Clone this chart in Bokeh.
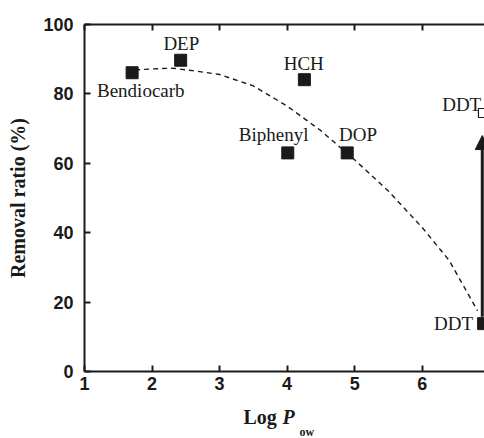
from bokeh.plotting import figure
from bokeh.models import Range1d, LinearAxis, FixedTicker, Arrow, NormalHead, ColumnDataSource
from bokeh.layouts import column
from bokeh.core.properties import value
from bokeh.embed import file_html
from bokeh.resources import INLINE

# ---- data ----
compounds = ["Bendiocarb", "DEP", "HCH", "Biphenyl", "DOP", "DDT"]
log_pow = [1.705, 2.424, 4.256, 4.01, 4.89, 6.91]
removal = [86.1, 89.7, 84.1, 63.0, 63.0, 13.8]

# open marker (DDT, second value)
ddt2_x = [6.90]
ddt2_y = [74.5]

# dashed trend curve
curve_x = [1.75, 2.0, 2.3, 2.6, 3.0, 3.5, 4.0, 4.5, 5.0, 5.5, 6.0, 6.4, 6.82]
curve_y = [86.9, 87.2, 87.4, 86.7, 85.6, 82.3, 76.5, 69.4, 61.0, 52.0, 41.5, 32.0, 17.5]

# arrow
arrow_x = 6.89
arrow_y0 = 15.8
arrow_y1 = 68.0

x_ticks = [1, 2, 3, 4, 5, 6]
y_ticks = [0, 20, 40, 60, 80, 100]

# point labels (text, x, y, align)
lab_text = ["Bendiocarb", "DEP", "HCH", "Biphenyl", "DOP", "DDT", "DDT"]
lab_x = [1.185, 2.434, 4.246, 3.80, 5.05, 6.755, 6.296]
lab_y = [80.9, 94.55, 88.85, 68.25, 68.25, 13.95, 77.05]
lab_align = ["left", "center", "center", "center", "center", "right", "left"]

INK = "#1a1a1a"

p = figure(width=484, height=405, output_backend="svg", toolbar_location=None,
           x_range=Range1d(1, 6.923), y_range=Range1d(0, 100),
           x_axis_location=None, y_axis_location=None,
           min_border_left=84, min_border_right=0, min_border_top=24, min_border_bottom=34)
p.outline_line_color = None
p.xgrid.visible = False
p.ygrid.visible = False
p.background_fill_color = "white"
p.border_fill_color = "white"

def style_axis(ax, labels=True):
    ax.axis_line_width = 2
    ax.axis_line_color = INK
    ax.major_tick_line_width = 2
    ax.major_tick_line_color = INK
    ax.major_tick_in = 6
    ax.major_tick_out = 0
    ax.minor_tick_line_color = None
    ax.major_label_text_font = "Liberation Sans"
    ax.major_label_text_font_style = "bold"
    ax.major_label_text_font_size = "18px"
    ax.major_label_text_color = INK
    if not labels:
        ax.major_label_text_alpha = 0
        ax.major_label_text_font_size = "1px"

bottom = LinearAxis(ticker=FixedTicker(ticks=x_ticks))
style_axis(bottom)
bottom.major_label_standoff = 5
p.add_layout(bottom, "below")

left = LinearAxis(ticker=FixedTicker(ticks=y_ticks))
style_axis(left)
left.major_label_standoff = 11
left.axis_label = "Removal ratio (%)"
left.axis_label_text_font = "Liberation Serif"
left.axis_label_text_font_style = "bold"
left.axis_label_text_font_size = "20px"
left.axis_label_text_color = INK
left.axis_label_standoff = 11
p.add_layout(left, "left")

top = LinearAxis(ticker=FixedTicker(ticks=x_ticks))
style_axis(top, labels=False)
p.add_layout(top, "above")

# dashed curve
p.line(curve_x, curve_y, line_color=INK, line_width=1.4, line_dash="5 4")

# arrow
p.add_layout(Arrow(x_start=arrow_x, y_start=arrow_y0, x_end=arrow_x, y_end=arrow_y1,
                   line_color=INK, line_width=3,
                   end=NormalHead(size=14, fill_color=INK, line_color=INK)))

# points
p.scatter(log_pow, removal, marker="square", size=12, fill_color=INK, line_color=INK)
p.scatter(ddt2_x, ddt2_y, marker="square", size=9, fill_color="white", line_color=INK, line_width=1.2)

# point annotations
src = ColumnDataSource(dict(x=lab_x, y=lab_y, t=lab_text, a=lab_align))
p.text(x="x", y="y", text="t", text_align="a", source=src,
       text_font=value("Liberation Serif"), text_font_size="19px",
       text_color=INK, text_baseline="middle")

# ---- x-axis title strip: Log P_ow (frame of this strip is aligned to page x 84..484) ----
q = figure(width=484, height=33, output_backend="svg", toolbar_location=None,
           x_range=Range1d(84, 484), y_range=Range1d(0, 33),
           x_axis_location=None, y_axis_location=None, min_border=0)
q.outline_line_color = None
q.xgrid.visible = False
q.ygrid.visible = False
q.background_fill_color = "white"
q.border_fill_color = "white"
q.text(x=[243], y=[21.8], text=["Log"], text_font=value("Liberation Serif"),
       text_font_style="bold", text_font_size="20px", text_color=INK, text_baseline="middle")
q.text(x=[282], y=[21.8], text=["P"], text_font=value("Liberation Serif"),
       text_font_style="bold italic", text_font_size="20px", text_color=INK, text_baseline="middle")
q.text(x=[299], y=[6.8], text=["ow"], text_font=value("Liberation Serif"),
       text_font_style="bold", text_font_size="12px", text_color=INK, text_baseline="middle")

layout = column(p, q, spacing=0)
open("out.html", "w").write(file_html(layout, INLINE))
